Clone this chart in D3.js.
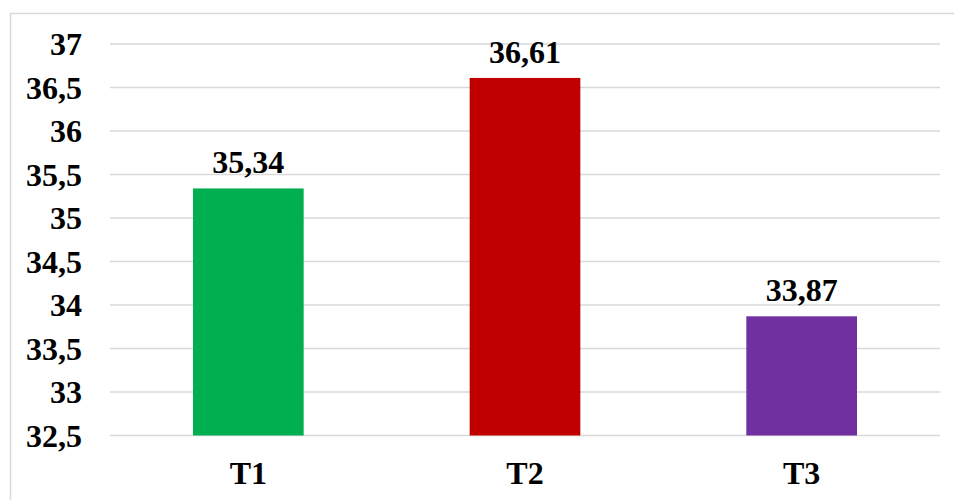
<!DOCTYPE html>
<html>
<head>
<meta charset="utf-8">
<script src="https://cdn.jsdelivr.net/npm/d3@7"></script>
<style>
  body { margin: 0; background: #fff; }
  text { font-family: "Liberation Serif", "Times New Roman", serif; font-weight: bold; fill: #000; }
</style>
</head>
<body>
<div id="chart"></div>
<script>
// Chart data;
var categories = ["T1", "T2", "T3"]
var values = [35.34, 36.61, 33.87]
var barColors = ["#00B050", "#C00000", "#7030A0"]
var yTicks = [32.5, 33, 33.5, 34, 34.5, 35, 35.5, 36, 36.5, 37]

var width = 954
var height = 500
var margin = { left: 110, right: 14, top: 44, bottom: 64.5 }

var svg = d3.select("#chart").append("svg")
    .attr("width", width)
    .attr("height", height)

// Outer frame of the chart area;
svg.append("rect")
    .attr("x", 10.5).attr("y", 13.5)
    .attr("width", 980).attr("height", 520)
    .attr("fill", "none")
    .attr("stroke", "#d9d9d9")
    .attr("stroke-width", 1.5)

var x = d3.scaleBand()
    .domain(categories)
    .range([margin.left, width - margin.right])
    .padding(0)

var y = d3.scaleLinear()
    .domain([32.5, 37])
    .range([height - margin.bottom, margin.top])

var fmt = v => String(v).replace(".", ",")

// Horizontal gridlines;
svg.append("g")
    .selectAll("line")
    .data(yTicks)
    .join("line")
    .attr("x1", margin.left)
    .attr("x2", width - margin.right)
    .attr("y1", d => y(d))
    .attr("y2", d => y(d))
    .attr("stroke", "#d9d9d9")
    .attr("stroke-width", 1.5)

// Y tick labels;
svg.append("g")
    .selectAll("text")
    .data(yTicks)
    .join("text")
    .attr("x", 82)
    .attr("y", d => y(d))
    .attr("dy", "0.35em")
    .attr("text-anchor", "end")
    .style("font-size", "32px")
    .text(d => fmt(d))

var barW = x.bandwidth() * 0.4

// Bars;
svg.append("g")
    .selectAll("rect")
    .data(values)
    .join("rect")
    .attr("x", (d, i) => x(categories[i]) + (x.bandwidth() - barW) / 2)
    .attr("y", d => y(d))
    .attr("width", barW)
    .attr("height", d => y(32.5) - y(d))
    .attr("fill", (d, i) => barColors[i])

// Value labels;
svg.append("g")
    .selectAll("text")
    .data(values)
    .join("text")
    .attr("x", (d, i) => x(categories[i]) + x.bandwidth() / 2)
    .attr("y", d => y(d) - 15)
    .attr("text-anchor", "middle")
    .style("font-size", "32px")
    .text(d => fmt(d))

// Category labels;
svg.append("g")
    .selectAll("text")
    .data(categories)
    .join("text")
    .attr("x", d => x(d) + x.bandwidth() / 2)
    .attr("y", 484)
    .attr("text-anchor", "middle")
    .style("font-size", "32px")
    .text(d => d)
</script>
</body>
</html>
